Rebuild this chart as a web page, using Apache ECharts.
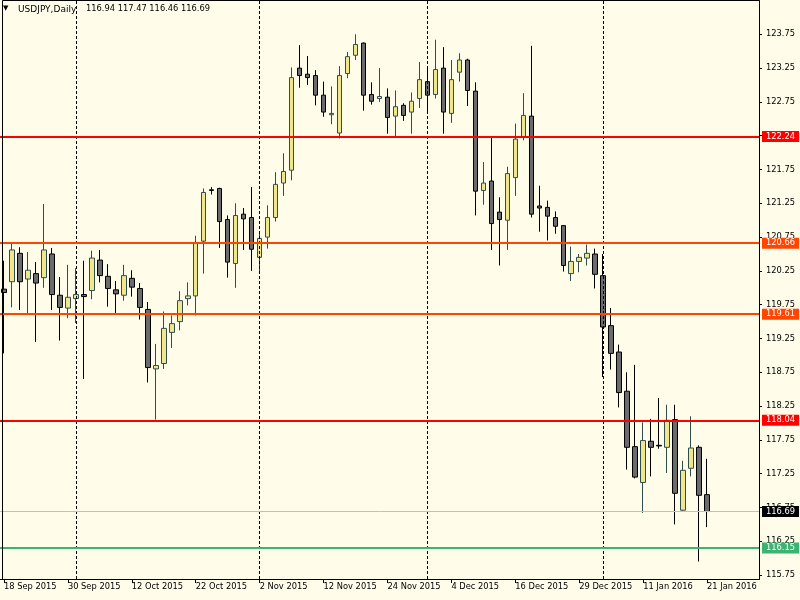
<!DOCTYPE html>
<html><head><meta charset="utf-8">
<script src="https://cdn.jsdelivr.net/npm/echarts@6/dist/echarts.min.js"></script>
<style>html,body{margin:0;padding:0;background:#fffdea}#c{width:800px;height:600px}</style>
</head><body><div id="c"></div>
<script>
const symbolName = 'USDJPY,Daily';
const dates = ['18 Sep 2015','21 Sep 2015','22 Sep 2015','23 Sep 2015','24 Sep 2015','25 Sep 2015','28 Sep 2015','29 Sep 2015','30 Sep 2015',
'1 Oct 2015','2 Oct 2015','5 Oct 2015','6 Oct 2015','7 Oct 2015','8 Oct 2015','9 Oct 2015','12 Oct 2015','13 Oct 2015','14 Oct 2015','15 Oct 2015','16 Oct 2015',
'19 Oct 2015','20 Oct 2015','21 Oct 2015','22 Oct 2015','23 Oct 2015','25 Oct 2015','26 Oct 2015','27 Oct 2015','28 Oct 2015','29 Oct 2015','30 Oct 2015',
'2 Nov 2015','3 Nov 2015','4 Nov 2015','5 Nov 2015','6 Nov 2015','9 Nov 2015','10 Nov 2015','11 Nov 2015','12 Nov 2015','13 Nov 2015','16 Nov 2015','17 Nov 2015',
'18 Nov 2015','19 Nov 2015','20 Nov 2015','23 Nov 2015','24 Nov 2015','25 Nov 2015','26 Nov 2015','27 Nov 2015','30 Nov 2015',
'1 Dec 2015','2 Dec 2015','3 Dec 2015','4 Dec 2015','7 Dec 2015','8 Dec 2015','9 Dec 2015','10 Dec 2015','11 Dec 2015','14 Dec 2015','15 Dec 2015','16 Dec 2015',
'17 Dec 2015','18 Dec 2015','21 Dec 2015','22 Dec 2015','23 Dec 2015','24 Dec 2015','28 Dec 2015','29 Dec 2015','30 Dec 2015','31 Dec 2015',
'4 Jan 2016','5 Jan 2016','6 Jan 2016','7 Jan 2016','8 Jan 2016','11 Jan 2016','12 Jan 2016','13 Jan 2016','14 Jan 2016','15 Jan 2016',
'18 Jan 2016','19 Jan 2016','20 Jan 2016','21 Jan 2016'];
const opens = [119.98,120.09,120.51,120.13,120.21,120.15,120.50,119.89,119.70,119.84,119.90,119.96,120.41,120.17,119.97,119.89,120.14,119.99,119.68,118.80,
118.88,119.34,119.50,119.84,119.88,120.69,121.45,121.47,121.01,120.36,121.09,121.04,120.45,120.75,121.04,121.55,121.74,123.25,123.16,123.14,
122.85,122.56,122.29,123.17,123.44,123.62,122.86,122.80,122.82,122.54,122.70,122.60,122.80,123.05,122.86,123.25,122.58,123.19,123.37,122.91,
121.44,121.58,121.12,121.00,121.63,122.23,122.54,121.21,121.19,121.04,120.92,120.21,120.39,120.44,120.50,120.18,119.44,119.05,118.47,117.65,
117.12,117.73,117.67,117.64,118.05,116.71,117.33,117.64,116.94];
const highs = [120.40,120.66,120.60,120.53,120.38,121.24,120.59,120.16,120.34,120.29,120.40,120.55,120.56,120.35,120.10,120.34,120.26,120.07,119.79,119.17,
119.65,119.59,119.95,120.08,120.77,121.47,121.49,121.48,121.07,121.25,121.18,121.49,120.81,121.22,121.71,121.99,123.26,123.59,123.43,123.22,
123.05,122.98,123.28,123.49,123.75,123.63,123.04,123.25,122.95,122.92,122.73,122.89,123.34,123.26,123.67,123.56,123.37,123.47,123.39,123.04,
121.86,122.24,121.34,121.79,122.43,122.88,123.58,121.51,121.29,121.13,120.93,120.61,120.50,120.64,120.58,120.50,119.70,119.16,118.75,118.86,
118.01,118.06,118.37,118.27,118.27,117.44,118.10,117.67,117.47];
const lows = [119.03,119.71,119.67,119.61,119.20,120.00,119.67,119.22,119.55,119.48,118.65,119.83,120.08,119.72,119.60,119.81,119.87,119.53,118.60,118.05,
118.80,119.11,119.37,119.74,119.59,120.21,121.38,120.59,120.15,120.00,120.56,120.25,120.24,120.58,120.98,121.36,121.59,122.96,123.00,122.70,
122.53,122.42,122.21,123.10,123.37,122.62,122.71,122.75,122.28,122.24,122.47,122.28,122.66,122.59,122.80,122.28,122.44,123.05,122.69,121.07,
121.23,120.56,120.33,120.56,121.36,122.18,121.04,120.83,120.70,120.80,120.24,120.10,120.23,120.33,119.99,118.68,118.79,118.23,117.31,117.18,
116.67,117.21,117.62,117.26,116.50,116.70,117.21,115.95,116.46];
const closes = [119.93,120.56,120.09,120.26,120.07,120.56,119.90,119.71,119.86,119.90,119.87,120.44,120.18,119.99,119.91,120.18,120.01,119.71,118.82,118.85,
119.40,119.47,119.81,119.88,120.67,121.41,121.44,120.98,120.38,121.07,121.02,120.57,120.73,121.04,121.53,121.72,123.11,123.14,123.11,122.85,
122.60,122.58,123.14,123.42,123.60,122.85,122.76,122.83,122.52,122.68,122.55,122.76,123.08,122.85,123.23,122.60,123.08,123.37,122.92,121.43,
121.55,120.95,121.01,121.69,122.20,122.55,121.09,121.18,121.06,120.91,120.33,120.39,120.45,120.51,120.20,119.42,119.03,118.45,117.64,117.20,
117.74,117.64,117.66,118.04,116.96,117.30,117.63,116.93,116.69];
const yTicks = [115.75,116.25,116.75,117.25,117.75,118.25,118.75,119.25,119.75,120.25,120.75,121.25,121.75,122.25,122.75,123.25,123.75];
const levels = [122.24, 120.66, 119.61, 118.04, 116.15];
const currentPrice = 116.69;
const separators = ['1 Oct 2015','2 Nov 2015','1 Dec 2015','4 Jan 2016'];

const levelColors = ['#ff0000','#ff4500','#ff4500','#ff0000','#3cb371'];
const FONT = 'DejaVu Sans';
const axisCats = dates.concat(Array.from({length:6}, (_, k) => ' '.repeat(k + 1)));
const candleData = dates.map((d, i) => [opens[i], closes[i], lows[i], highs[i]]);
const last = dates.length - 1;
const header = [opens[last], highs[last], lows[last], closes[last]].map(v => v.toFixed(2)).join(' ');

const tagLabel = (bg) => ({show:true, position:'end', distance:3, formatter: p => Number(p.value).toFixed(2),
  color:'#fff', backgroundColor:bg, padding:[1,4,0,4], fontSize:8.3, fontFamily:FONT, lineHeight:10});

const markData = [];
separators.forEach(s => markData.push({xAxis: dates.indexOf(s), lineStyle:{color:'#000', width:1, type:[3,2]}, label:{show:false}}));
markData.push({yAxis: currentPrice, lineStyle:{color:'#c0c0c0', width:1, type:'solid'}, label: tagLabel('#000')});
levels.forEach((v, k) => markData.push({yAxis: v, lineStyle:{color:levelColors[k], width:2, type:'solid'}, label: tagLabel(levelColors[k])}));

const chart = echarts.init(document.getElementById('c'), null, {renderer:'canvas', width:800, height:600});
chart.setOption({
  animation:false,
  backgroundColor:'#fffdea',
  grid:{left:-1, top:1, width:760, height:578, containLabel:false},
  xAxis:{type:'category', data:axisCats, boundaryGap:true,
    axisLine:{show:true, lineStyle:{color:'#000'}},
    axisTick:{show:true, interval:7, alignWithLabel:true, length:4, lineStyle:{color:'#000'}},
    axisLabel:{interval:7, align:'left', margin:4, color:'#000', fontSize:8.3, fontFamily:FONT, hideOverlap:false},
    splitLine:{show:false}},
  yAxis:{type:'value', position:'right', min:115.692, max:124.243,
    splitLine:{show:false},
    axisLine:{show:true, lineStyle:{color:'#000'}},
    axisTick:{show:true, length:3, lineStyle:{color:'#000'}, customValues:yTicks},
    axisLabel:{margin:7, color:'#000', fontSize:8.3, fontFamily:FONT, customValues:yTicks, formatter: v => Number(v).toFixed(2)}},
  series:[{
    type:'candlestick', data:candleData, barWidth:5,
    itemStyle:{color:'#f0e68c', color0:'#6b6b6b', borderColor:'#2f4f4f', borderColor0:'#000', borderWidth:1},
    markLine:{silent:true, symbol:['none','none'], animation:false, data:markData}
  }],
  graphic:[
    {type:'text', left:3, top:5, style:{text:'▼', font:'7px "DejaVu Sans"', fill:'#000'}},
    {type:'text', left:18, top:5, style:{text:symbolName, font:'9px "DejaVu Sans"', fill:'#000'}},
    {type:'text', left:86, top:5, style:{text:header, font:'8.3px "DejaVu Sans"', fill:'#000'}},
    {type:'rect', shape:{x:2.5, y:0.5, width:757, height:579}, style:{fill:'none', stroke:'#000', lineWidth:1}, silent:true, z:100}
  ]
});
</script></body></html>
